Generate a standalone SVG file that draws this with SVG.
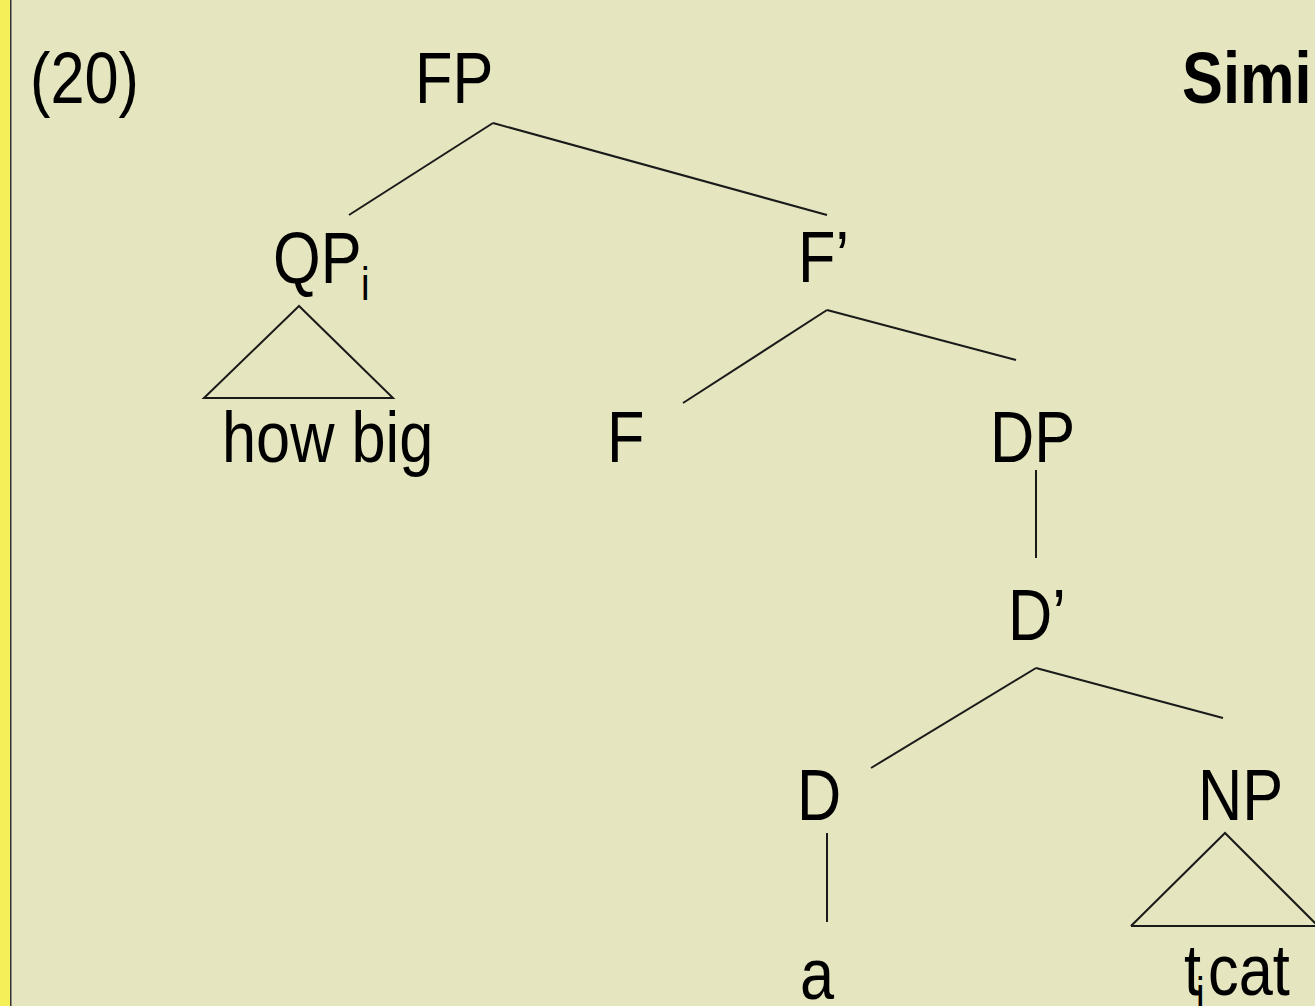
<svg xmlns="http://www.w3.org/2000/svg" width="1315" height="1006" viewBox="0 0 1315 1006">
<style>
.t{font-family:"Liberation Sans","Arial",sans-serif;font-size:73px;fill:#000}
.s{font-family:"Liberation Sans","Arial",sans-serif;font-size:46px;fill:#000}
.b{font-family:"Liberation Sans","Arial",sans-serif;font-size:73px;font-weight:bold;fill:#000}
.e{stroke:#1a1a1a;stroke-width:2;fill:none}
</style>
<rect x="0" y="0" width="1315" height="1006" fill="#E5E5BF"/>
<rect x="0" y="0" width="10" height="1006" fill="#F5F05A"/>
<rect x="10" y="0" width="1.5" height="1006" fill="#333"/>
<text class="t" transform="translate(30,103) scale(0.84,1)">(20)</text>
<text class="b" transform="translate(1182,103) scale(0.84,1)">Simi</text>
<g id="connectors">
<line class="e" x1="493" y1="123" x2="349" y2="215"/>
<line class="e" x1="493" y1="123" x2="827" y2="215"/>
<polygon class="e" points="299,306 204,398 393,398"/>
<line class="e" x1="827" y1="310" x2="683" y2="403"/>
<line class="e" x1="827" y1="310" x2="1016" y2="360"/>
<line class="e" x1="1036" y1="470" x2="1036" y2="558"/>
<line class="e" x1="1036" y1="668" x2="871" y2="768"/>
<line class="e" x1="1036" y1="668" x2="1223" y2="718"/>
<line class="e" x1="827" y1="833" x2="827" y2="922"/>
<polyline class="e" points="1131,926 1225,833 1318,926"/>
<line class="e" x1="1131" y1="926" x2="1315" y2="926"/>
</g>
<g id="FP"><text class="t" transform="translate(415,103) scale(0.84,1)">FP</text></g>
<g id="QP"><text class="t" transform="translate(273,283) scale(0.84,1)">QP</text><text class="s" transform="translate(361,300) scale(0.84,1)">i</text></g>
<g id="howbig"><text class="t" transform="translate(222,462) scale(0.84,1)">how big</text></g>
<g id="Fbar"><text class="t" transform="translate(798,282) scale(0.84,1)">F’</text></g>
<g id="F"><text class="t" transform="translate(607,462) scale(0.84,1)">F</text></g>
<g id="DP"><text class="t" transform="translate(990,462) scale(0.84,1)">DP</text></g>
<g id="Dbar"><text class="t" transform="translate(1008,640) scale(0.84,1)">D’</text></g>
<g id="D"><text class="t" transform="translate(797,820) scale(0.84,1)">D</text></g>
<g id="NP"><text class="t" transform="translate(1198,820) scale(0.84,1)">NP</text></g>
<g id="a"><text class="t" transform="translate(800,999) scale(0.84,1)">a</text></g>
<g id="ticat"><text class="t" transform="translate(1184,995) scale(0.84,1)">t</text><text class="s" transform="translate(1196,1010) scale(0.84,1)">i</text><text class="t" transform="translate(1208,995) scale(0.84,1)">cat</text></g>
</svg>
